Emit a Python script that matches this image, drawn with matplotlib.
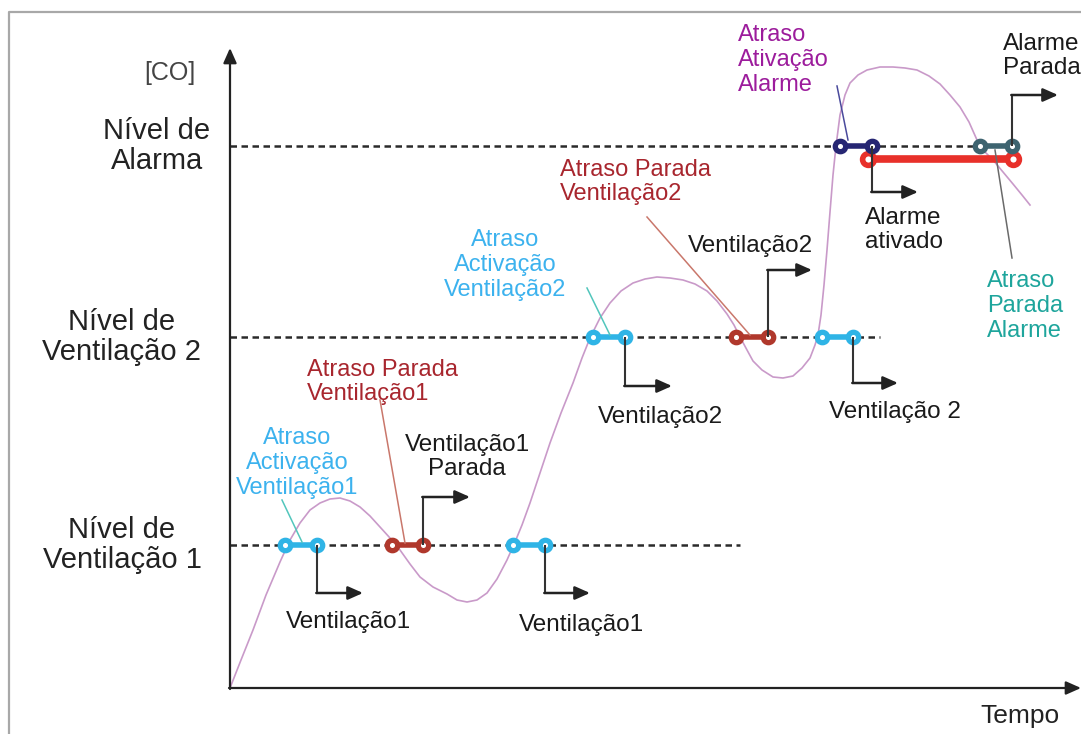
import matplotlib.pyplot as plt

plt.rcParams['font.family'] = ['Liberation Sans', 'DejaVu Sans']

# CO curve (time, concentration)
curve_t = [0, 11, 23, 36, 50, 60, 70, 80, 90, 100, 110, 120, 130, 140, 150, 160,
           170, 180, 190, 203, 217, 227, 237, 247, 257, 267, 277, 285, 292, 300,
           310, 320, 331, 343, 352, 360, 370, 380, 391, 403, 415, 427, 440, 453,
           465, 477, 487, 497, 504, 510, 517, 523, 532, 543, 553, 563, 572, 580,
           585, 588, 591, 594, 597, 600, 603, 606, 610, 615, 620, 628, 637, 650,
           663, 675, 687, 699, 710, 720, 730, 739, 747, 755, 763, 773, 783, 792, 800]
curve_co = [0, 28, 58, 93, 126, 148, 165, 178, 185, 189, 190, 187, 181, 172, 161, 150,
            138, 124, 111, 101, 94, 88, 86, 88, 95, 109, 128, 146, 163, 185,
            215, 245, 275, 305, 330, 350, 370, 385, 397, 405, 409, 411, 410, 408,
            404, 397, 387, 374, 363, 351, 338, 327, 318, 311, 310, 312, 320, 330,
            343, 353, 373, 403, 438, 476, 513, 542, 573, 593, 605, 613, 618, 621,
            621, 620, 618, 612, 604, 593, 581, 566, 548, 536, 528, 516, 504, 493, 483]

# levels
level_names = ['Nível de\nAlarma', 'Nível de\nVentilação 2', 'Nível de\nVentilação 1']
level_co = [542, 351, 143]
level_end = [782, 650, 510]
level_label_t = [-73, -108, -108]

# delay segments: t start, t end, level, colour
seg_t0 = [55, 162, 283, 363, 506, 592, 610, 750]
seg_t1 = [87, 193, 315, 395, 538, 623, 642, 782]
seg_co = [143, 143, 143, 351, 351, 351, 542, 542]
seg_col = ['#2fb4e6', '#b0382c', '#2fb4e6', '#2fb4e6', '#b0382c', '#2fb4e6',
           '#262673', '#3e6470']

# alarm active bar
alarm_t = [638, 783]
alarm_co = 529

# step arrows: start t, start co, turn co, end t
arr_t0 = [87, 193, 315, 395, 538, 623, 642, 782]
arr_c0 = [143, 143, 143, 351, 351, 351, 542, 542]
arr_c1 = [95, 191, 95, 302, 418, 305, 496, 593]
arr_t1 = [133, 240, 360, 442, 582, 668, 688, 828]

# state labels
state_txt = ['Ventilação1', 'Ventilação1\nParada', 'Ventilação1', 'Ventilação2',
             'Ventilação2', 'Ventilação 2', 'Alarme\nativado', 'Alarme\nParada']
state_t = [118, 237, 351, 430, 520, 665, 635, 773]
state_co = [66, 231, 63, 271, 442, 276, 458, 632]
state_ha = ['center', 'center', 'center', 'center', 'center', 'center', 'left', 'left']

# delay callouts
delay_txt = ['Atraso\nActivação\nVentilação1', 'Atraso Parada\nVentilação1',
             'Atraso\nActivação\nVentilação2', 'Atraso Parada\nVentilação2',
             'Atraso\nAtivação\nAlarme', 'Atraso\nParada\nAlarme']
delay_t = [67, 77, 275, 330, 508, 757]
delay_co = [225, 306, 423, 506, 628, 382]
delay_ha = ['center', 'left', 'center', 'left', 'left', 'left']
delay_col = ['#3cb2ee', '#a8262e', '#3cb2ee', '#a8262e', '#9c1c9c', '#1ea59c']
lead_t0 = [52, 150, 357, 417, 607, 765]
lead_c0 = [188, 288, 400, 471, 602, 538]
lead_t1 = [72, 175, 380, 520, 618, 782]
lead_c1 = [146, 145, 353, 353, 548, 430]
lead_col = ['#52c6bc', '#c9776b', '#52c6bc', '#c9776b', '#4a4a9c', '#6a6a6a']

fig = plt.figure(figsize=(10.81, 7.34), dpi=100)
ax = fig.add_axes([0, 0, 1, 1])
ax.set_xlim(-230, 851)
ax.set_ylim(-46, 688)
ax.axis('off')

# outer frame
ax.plot([-221, -221, 851], [-46, 676, 676], color='#a8a8a8', lw=1.6, clip_on=False)

# axes with arrows
ax.annotate('', xy=(0, 640), xytext=(0, -1),
            arrowprops=dict(arrowstyle='-|>,head_length=0.9,head_width=0.4',
                            lw=1.6, color='#222222', shrinkA=0, shrinkB=0))
ax.annotate('', xy=(851, 0), xytext=(-1, 0),
            arrowprops=dict(arrowstyle='-|>,head_length=0.9,head_width=0.4',
                            lw=1.6, color='#222222', shrinkA=0, shrinkB=0))
ax.text(-60, 615, '[CO]', fontsize=18, color='#444444', ha='center', va='center')
ax.text(790, -28, 'Tempo', fontsize=19, color='#222222', ha='center', va='center')

# level lines
for name, c, e, lt in zip(level_names, level_co, level_end, level_label_t):
    ax.plot([0, e], [c, c], color='#2a2a2a', lw=1.8, ls=(0, (2.6, 1.8)))
    ax.text(lt, c, name, fontsize=21, color='#222222', ha='center', va='center',
            multialignment='center', linespacing=1.1)

# curve
ax.plot(curve_t, curve_co, color='#c99ac9', lw=1.2, solid_joinstyle='round')

# alarm active bar
ax.plot(alarm_t, [alarm_co, alarm_co], color='#e8302a', lw=5.5, marker='o',
        ms=8.5, mfc='white', mew=4, solid_capstyle='butt')

# delay segments
for t0, t1, c, col in zip(seg_t0, seg_t1, seg_co, seg_col):
    ax.plot([t0, t1], [c, c], color=col, lw=4, marker='o', ms=7.5,
            mfc='white', mew=3.8)

# step arrows
for t0, c0, c1, t1 in zip(arr_t0, arr_c0, arr_c1, arr_t1):
    ax.plot([t0, t0], [c0, c1], color='#333333', lw=1.5, solid_capstyle='butt')
    ax.annotate('', xy=(t1, c1), xytext=(t0 - 0.7, c1),
                arrowprops=dict(arrowstyle='-|>,head_length=0.9,head_width=0.4',
                                lw=1.8, color='#222222', shrinkA=0, shrinkB=0))

for txt, t, c, ha in zip(state_txt, state_t, state_co, state_ha):
    ax.text(t, c, txt, fontsize=17.5, color='#1a1a1a', ha=ha, va='center',
            multialignment='center' if ha == 'center' else 'left', linespacing=1.15)

# callouts
for t0, c0, t1, c1, col in zip(lead_t0, lead_c0, lead_t1, lead_c1, lead_col):
    ax.plot([t0, t1], [c0, c1], color=col, lw=1.1)

for txt, t, c, ha, col in zip(delay_txt, delay_t, delay_co, delay_ha, delay_col):
    ax.text(t, c, txt, fontsize=17, color=col, ha=ha, va='center',
            multialignment='center' if ha == 'center' else 'left', linespacing=1.15)

fig.savefig('out.png', dpi=100)
